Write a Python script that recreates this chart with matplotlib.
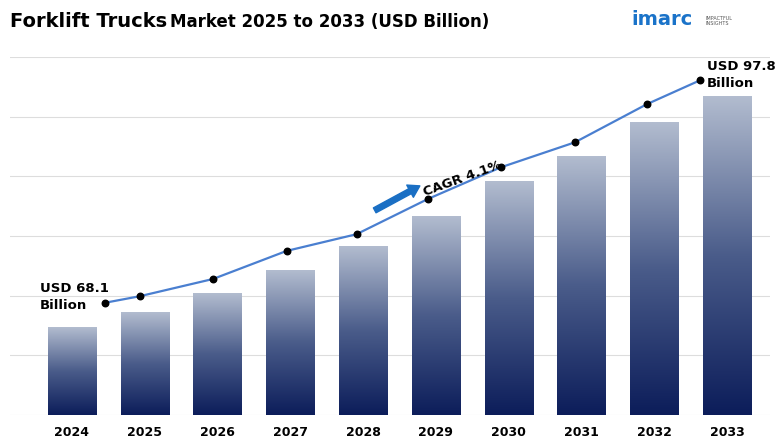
import matplotlib.pyplot as plt
import numpy as np
from matplotlib.colors import LinearSegmentedColormap

years = ['2024', '2025', '2026', '2027', '2028', '2029', '2030', '2031', '2032', '2033']
bar_heights = [1.47, 1.71, 2.04, 2.43, 2.83, 3.32, 3.92, 4.34, 4.91, 5.34]
# the trend line in the reference sits slightly right of the bar centres
line_x = [0.45, 0.93, 1.94, 2.95, 3.91, 4.89, 5.89, 6.91, 7.90, 8.63]
line_values = [1.88, 1.99, 2.28, 2.75, 3.03, 3.62, 4.15, 4.57, 5.21, 5.61]

fig = plt.figure(figsize=(7.8, 4.4), dpi=100)
ax = fig.add_axes([10/780, 25/440, 760/780, 358/440])
ax.set_xlim(-0.85, 9.59)
ax.set_ylim(0, 6)

cmap = LinearSegmentedColormap.from_list('bar', ['#0c1d5a', '#4a5c8a', '#b2bccf'])
grad = np.linspace(0, 1, 256).reshape(-1, 1)
w = 0.66
for i, h in enumerate(bar_heights):
    ax.imshow(grad, cmap=cmap, origin='lower', aspect='auto',
              extent=[i - w/2, i + w/2, 0, h], zorder=2)

ax.plot(line_x, line_values, color='#4a7fd0', lw=1.6, zorder=3)
ax.scatter(line_x, line_values, color='black', s=22, zorder=4)

for y in range(0, 7):
    ax.axhline(y, color='#dddddd', lw=0.8, zorder=1)
for s in ax.spines.values():
    s.set_visible(False)
ax.set_yticks([])
ax.set_xticks(range(len(years)))
ax.set_xticklabels(years, fontsize=9, fontweight='bold')
ax.tick_params(length=0, pad=8)

ax.text(-0.44, 1.73, 'USD 68.1\nBillion', fontsize=9.5, fontweight='bold',
        ha='left', va='bottom', linespacing=1.4)
ax.text(8.72, 5.45, 'USD 97.8\nBillion', fontsize=9.5, fontweight='bold',
        ha='left', va='bottom', linespacing=1.4)

ax.annotate('', xy=(4.78, 3.84), xytext=(4.16, 3.43),
            arrowprops=dict(facecolor='#1a6fc4', edgecolor='#1a6fc4', width=4, headwidth=10, headlength=8))
ax.text(4.8, 3.62, 'CAGR 4.1%', fontsize=9.5, fontweight='bold', rotation=20,
        ha='left', va='bottom')

fig.text(0.013, 0.93, 'Forklift Trucks', fontsize=14, fontweight='bold', va='bottom')
fig.text(0.218, 0.93, 'Market 2025 to 2033 (USD Billion)', fontsize=12, fontweight='bold', va='bottom')
fig.text(0.81, 0.935, 'imarc', fontsize=14, color='#1a73c9', fontweight='bold', va='bottom')
fig.text(0.905, 0.94, 'IMPACTFUL\nINSIGHTS', fontsize=3.5, color='#555555', va='bottom')

fig.savefig('out.png', dpi=100)
